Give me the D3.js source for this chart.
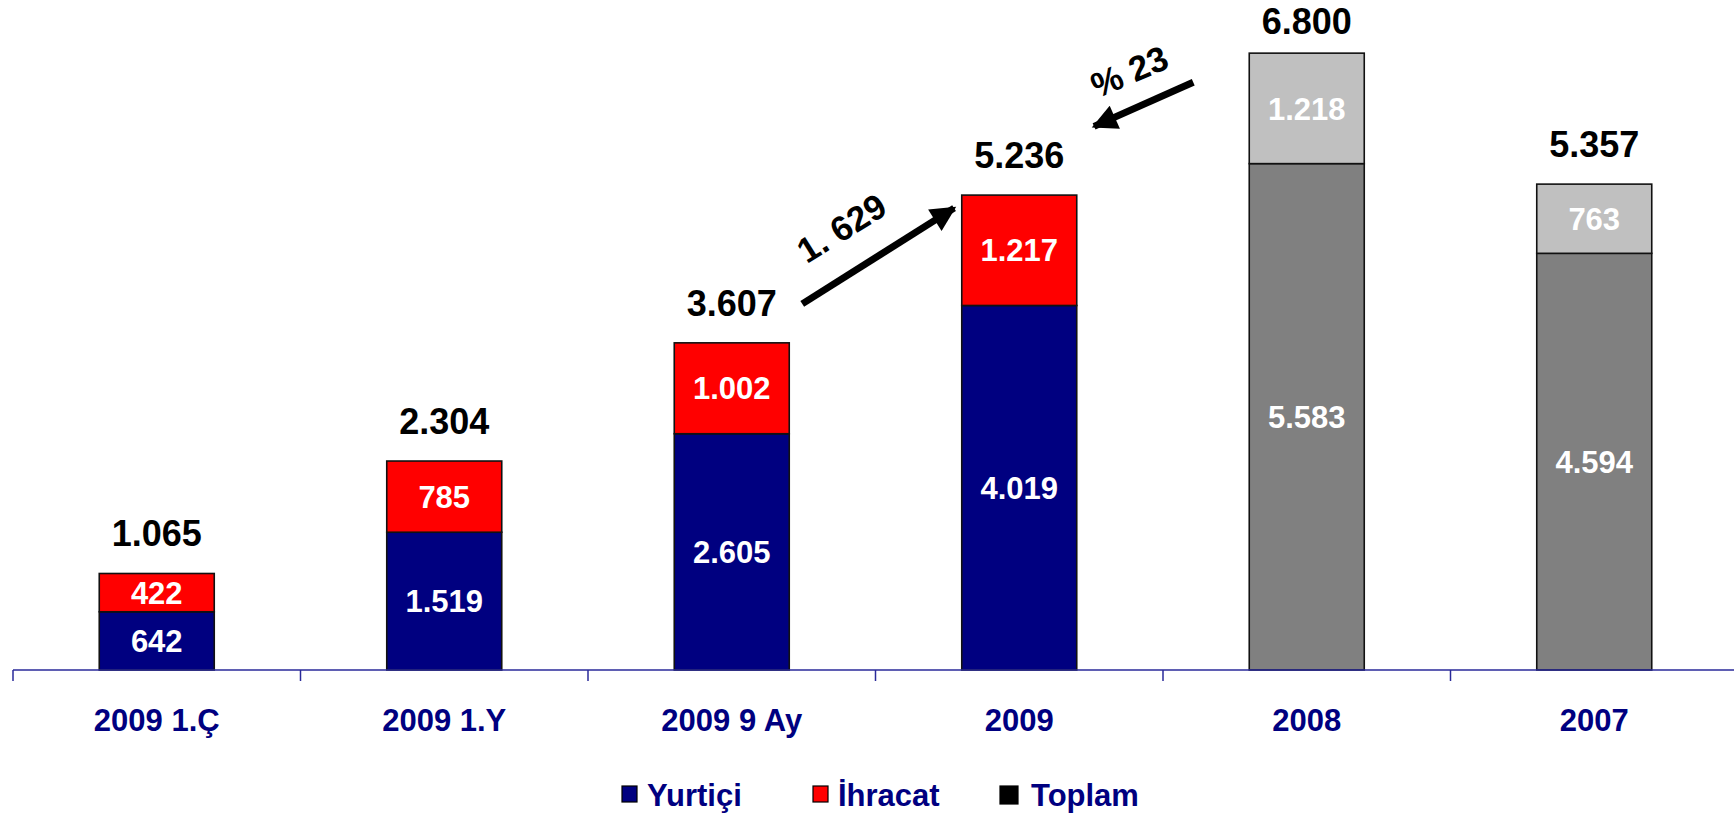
<!DOCTYPE html>
<html>
<head>
<meta charset="utf-8">
<script src="https://cdn.jsdelivr.net/npm/d3@7"></script>
<style>
  html, body { margin: 0; padding: 0; background: #ffffff; }
  svg { display: block; }
  text { font-family: "Liberation Sans", Arial, Helvetica, sans-serif; }
</style>
</head>
<body>
<svg id="chart" width="1734" height="815"></svg>
<script>
// ---- data ----
const categories = ["2009 1.Ç", "2009 1.Y", "2009 9 Ay", "2009", "2008", "2007"];
const yurtici = [642, 1519, 2605, 4019, 5583, 4594];
const ihracat = [422, 785, 1002, 1217, 1218, 763];
const toplam = [1065, 2304, 3607, 5236, 6800, 5357];
const seriesNames = ["Yurtiçi", "İhracat", "Toplam"];
const annotationTexts = ["1. 629", "% 23"];
const yMax = 7387;

// ---- style ----
const W = 1734, H = 815;
const baseY = 670;
const navy = "#000080", red = "#FF0000", dark = "#808080", light = "#C0C0C0";
const pastCats = new Set(["2008", "2007"]);
const fmt = v => d3.format(",")(v).replace(/,/g, ".");

const svg = d3.select("#chart");

const x = d3.scaleBand().domain(categories).range([13, 1738]).paddingInner(0.6).paddingOuter(0.3);
const y = d3.scaleLinear().domain([0, yMax]).range([baseY, 0]);

const rows = categories.map((c, i) => ({ cat: c, yurtici: yurtici[i], ihracat: ihracat[i], toplam: toplam[i] }));
const stack = d3.stack().keys(["yurtici", "ihracat"])(rows);

const fillFor = (key, cat) => {
  if (pastCats.has(cat)) return key === "yurtici" ? dark : light;
  return key === "yurtici" ? navy : red;
};

// bars
const gBars = svg.append("g");
stack.forEach(layer => {
  gBars.selectAll(null).data(layer).join("rect")
    .attr("x", d => x(d.data.cat))
    .attr("width", x.bandwidth())
    .attr("y", d => y(d[1]))
    .attr("height", d => y(d[0]) - y(d[1]))
    .attr("fill", d => fillFor(layer.key, d.data.cat))
    .attr("stroke", "#111")
    .attr("stroke-width", 1.6);
  gBars.selectAll(null).data(layer).join("text")
    .attr("x", d => x(d.data.cat) + x.bandwidth() / 2)
    .attr("y", d => (y(d[0]) + y(d[1])) / 2)
    .attr("dy", "0.36em")
    .attr("text-anchor", "middle")
    .attr("fill", "#ffffff")
    .attr("font-weight", "bold")
    .attr("font-size", 31)
    .text(d => fmt(d.data[layer.key]));
});

// totals
svg.append("g").selectAll("text").data(rows).join("text")
  .attr("x", d => x(d.cat) + x.bandwidth() / 2)
  .attr("y", d => Math.max(y(d.toplam) - 27, 34))
  .attr("text-anchor", "middle")
  .attr("fill", "#000")
  .attr("font-weight", "bold")
  .attr("font-size", 36)
  .text(d => fmt(d.toplam));

// axis
const axisCol = "#2a2a9a";
const r0 = x.range()[0];
const step = x.step();
const gAxis = svg.append("g");
gAxis.append("line")
  .attr("x1", r0).attr("x2", x.range()[1])
  .attr("y1", baseY).attr("y2", baseY)
  .attr("stroke", axisCol).attr("stroke-width", 1.5);
gAxis.selectAll("line.tick").data(d3.range(categories.length + 1)).join("line")
  .attr("class", "tick")
  .attr("x1", i => r0 + i * step).attr("x2", i => r0 + i * step)
  .attr("y1", baseY).attr("y2", baseY + 11)
  .attr("stroke", axisCol).attr("stroke-width", 1.5);
gAxis.selectAll("text").data(categories).join("text")
  .attr("x", c => x(c) + x.bandwidth() / 2)
  .attr("y", 731)
  .attr("text-anchor", "middle")
  .attr("fill", navy)
  .attr("font-weight", "bold")
  .attr("font-size", 31)
  .text(c => c);

// annotations (arrows) anchored on the bars
const defs = svg.append("defs");
defs.append("marker").attr("id", "ah")
  .attr("viewBox", "0 0 10 10").attr("refX", 9).attr("refY", 5)
  .attr("markerWidth", 4).attr("markerHeight", 3.6)
  .attr("markerUnits", "strokeWidth").attr("orient", "auto")
  .append("path").attr("d", "M0,0 L10,5 L0,10 Z").attr("fill", "#000");

const i3 = 2, i4 = 3, i5 = 4;
const a1 = {
  x1: x(categories[i3]) + x.bandwidth() + 13, y1: y(toplam[i3]) - 39,
  x2: x(categories[i4]) - 6, y2: y(toplam[i4]) + 12
};
const a2 = {
  x1: x(categories[i5]) - 56, y1: y(toplam[i5]) + 29,
  x2: x(categories[i5]) - 157, y2: y(toplam[i5]) + 74
};
[a1, a2].forEach(a => {
  const len = Math.hypot(a.x2 - a.x1, a.y2 - a.y1);
  const ux = (a.x2 - a.x1) / len, uy = (a.y2 - a.y1) / len;
  svg.append("line")
    .attr("x1", a.x1).attr("y1", a.y1)
    .attr("x2", a.x2 - ux * 2).attr("y2", a.y2 - uy * 2)
    .attr("stroke", "#000").attr("stroke-width", 7)
    .attr("marker-end", "url(#ah)");
});

svg.append("text")
  .attr("transform", `translate(${a1.x1 + 39},${a1.y1 - 76}) rotate(-32)`)
  .attr("text-anchor", "middle").attr("dy", "0.36em")
  .attr("font-size", 35).attr("font-weight", "bold").attr("fill", "#000")
  .text(annotationTexts[0]);
svg.append("text")
  .attr("transform", `translate(${a2.x1 - 64},${a2.y1 - 11}) rotate(-23)`)
  .attr("text-anchor", "middle").attr("dy", "0.36em")
  .attr("font-size", 35).attr("font-weight", "bold").attr("fill", "#000")
  .text(annotationTexts[1]);

// legend
const legendFills = [navy, red, "#000"];
const legendX = [622, 813, 1000];
const lg = svg.append("g");
seriesNames.forEach((n, i) => {
  lg.append("rect")
    .attr("x", legendX[i]).attr("y", 786)
    .attr("width", i === 2 ? 18 : 15).attr("height", i === 2 ? 18 : 16)
    .attr("fill", legendFills[i]).attr("stroke", "#000").attr("stroke-width", 1.2);
  lg.append("text")
    .attr("x", legendX[i] + (i === 2 ? 31 : 25)).attr("y", 806)
    .attr("fill", navy).attr("font-weight", "bold").attr("font-size", 31)
    .text(n);
});
</script>
</body>
</html>
